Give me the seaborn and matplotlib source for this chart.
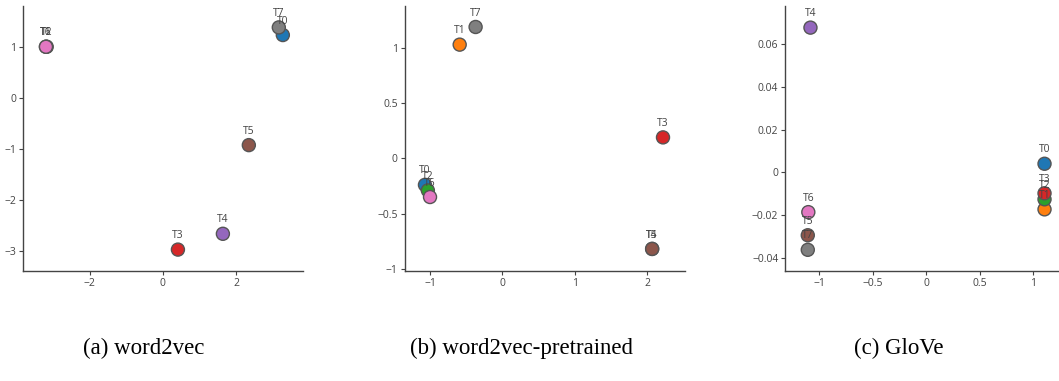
import matplotlib
matplotlib.use("Agg")
import matplotlib.pyplot as plt
import seaborn as sns
import pandas as pd

# Topic embeddings projected to 2-D, one panel per embedding model
topics = ["T0", "T1", "T2", "T3", "T4", "T5", "T6", "T7"]

w2v_x = [3.28, -3.20, -3.18, 0.41, 1.64, 2.35, -3.20, 3.17]
w2v_y = [1.24, 1.01, 1.01, -2.97, -2.66, -0.92, 1.01, 1.39]

w2v_pre_x = [-1.07, -0.59, -1.03, 2.22, 2.07, 2.07, -1.00, -0.37]
w2v_pre_y = [-0.24, 1.03, -0.29, 0.19, -0.82, -0.82, -0.35, 1.19]

glove_x = [1.106, 1.106, 1.106, 1.106, -1.08, -1.105, -1.10, -1.105]
glove_y = [0.0040, -0.0173, -0.0126, -0.0098, 0.0676, -0.0294, -0.0186, -0.0362]

captions = ["(a) word2vec", "(b) word2vec-pretrained", "(c) GloVe"]

x_ticks = [[-2, 0, 2], [-1, 0, 1, 2], [-1, -0.5, 0, 0.5, 1]]
y_ticks = [[-3, -2, -1, 0, 1], [-1, -0.5, 0, 0.5, 1], [-0.04, -0.02, 0, 0.02, 0.04, 0.06]]
x_ticklabels = [["−2", "0", "2"], ["−1", "0", "1", "2"], ["−1", "−0.5", "0", "0.5", "1"]]
y_ticklabels = [["−3", "−2", "−1", "0", "1"], ["−1", "−0.5", "0", "0.5", "1"],
                ["−0.04", "−0.02", "0", "0.02", "0.04", "0.06"]]

sns.set_style("ticks")
plt.rcParams["font.family"] = ["Open Sans", "DejaVu Sans"]

TEXT = "#444444"
palette = dict(zip(topics, sns.color_palette("tab10", 8)))

fig = plt.figure(figsize=(10.59, 3.81), dpi=100)
W, H = 1059, 381
ax_w = 280
bottom_px, top_px = 271, 6
lefts = [23.3, 404.7, 785.3]
xlims = [(-3.82, 3.84), (-1.35, 2.52), (-1.315, 1.30)]
ylims = [(-3.39, 1.81), (-1.02, 1.38), (-0.0461, 0.0777)]

panels = [(w2v_x, w2v_y), (w2v_pre_x, w2v_pre_y), (glove_x, glove_y)]

for i, (xs, ys) in enumerate(panels):
    ax = fig.add_axes([lefts[i] / W, 1 - bottom_px / H, ax_w / W, (bottom_px - top_px) / H])
    df = pd.DataFrame({"x": xs, "y": ys, "topic": topics})
    sns.scatterplot(data=df, x="x", y="y", hue="topic", hue_order=topics,
                    palette=palette, s=88, edgecolor="#555555", linewidth=1.0,
                    legend=False, ax=ax, zorder=3)
    for t, x, y in zip(topics, xs, ys):
        ax.annotate(t, (x, y), xytext=(0, 10), textcoords="offset points",
                    ha="center", va="center", fontsize=7.5, color=TEXT, zorder=5)
    ax.set_xlim(*xlims[i])
    ax.set_ylim(*ylims[i])
    ax.set_xticks(x_ticks[i])
    ax.set_xticklabels(x_ticklabels[i])
    ax.set_yticks(y_ticks[i])
    ax.set_yticklabels(y_ticklabels[i])
    ax.set_xlabel("")
    ax.set_ylabel("")
    sns.despine(ax=ax)
    for side in ("left", "bottom"):
        ax.spines[side].set_color(TEXT)
        ax.spines[side].set_linewidth(1.0)
    ax.tick_params(axis="both", length=3, width=0.8, color=TEXT,
                   labelcolor=TEXT, labelsize=7.5, pad=2)
    ax.set_facecolor("white")

caption_x = [144, 521, 899]
for cx, cap in zip(caption_x, captions):
    fig.text(cx / W, 1 - 348 / H, cap, ha="center", va="center",
             fontsize=16.5, family=["Liberation Serif", "DejaVu Serif"], color="black")

fig.savefig("out.png", dpi=100, facecolor="white")
